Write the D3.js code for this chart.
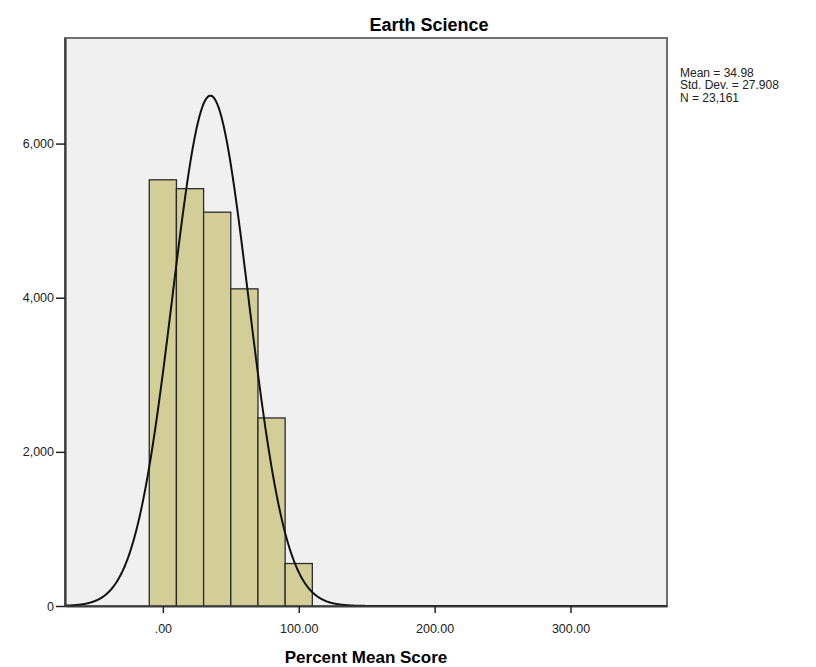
<!DOCTYPE html>
<html lang="en">

<head>
  <meta charset="UTF-8">
  <title>Earth Science</title>
  <style>
    body { margin: 0; background: #fff; }
    svg { display: block; }
    text { font-family: "Liberation Sans", Arial, sans-serif; }
  </style>
</head>

<body>
  <svg width="816" height="667" class="svgs"></svg>
  <script src="https://cdnjs.cloudflare.com/ajax/libs/d3/7.8.5/d3.min.js"></script>
  <script>
    // histogram bins (lower edge) and counts
    const binStarts = [-10, 10, 30, 50, 70, 90]
    const counts = [5530, 5415, 5110, 4115, 2440, 551]
    const binWidth = 20
    const xTicks = [0, 100, 200, 300]
    const yTicks = [0, 2000, 4000, 6000]
    const stats = ['Mean = 34.98', 'Std. Dev. = 27.908', 'N = 23,161']
    const mean = 34.98, sd = 27.908, n = 23161

    const mainsvg = d3.select('.svgs')
    const margin = { top: 38, left: 65, right: 149, bottom: 61 }
    const width = +mainsvg.attr('width')
    const height = +mainsvg.attr('height')
    const innerWidth = width - margin.left - margin.right
    const innerHeight = height - margin.top - margin.bottom

    const xScale = d3.scaleLinear().domain([-72, 371]).range([0, innerWidth])
    const yScale = d3.scaleLinear().domain([0, 7370]).range([innerHeight, 0])

    const g = mainsvg.append('g')
      .attr('transform', `translate(${margin.left}, ${margin.top})`)

    // plot background + frame
    g.append('rect')
      .attr('width', innerWidth).attr('height', innerHeight)
      .attr('fill', '#f0f0f0')
      .attr('stroke', '#6e6e6e').attr('stroke-width', 2)

    // bars
    g.selectAll('.bar').data(binStarts).join('rect')
      .attr('class', 'bar')
      .attr('x', d => xScale(d))
      .attr('width', d => xScale(d + binWidth) - xScale(d))
      .attr('y', (d, i) => yScale(counts[i]))
      .attr('height', (d, i) => innerHeight - yScale(counts[i]))
      .attr('fill', '#d3ce97')
      .attr('stroke', '#2b2b2b').attr('stroke-width', 1.3)

    // fitted normal curve
    const pts = d3.range(-72, 371.5, 0.5).map(x => [x,
      n * binWidth / (sd * Math.sqrt(2 * Math.PI)) * Math.exp(-0.5 * ((x - mean) / sd) ** 2)])
    g.append('path')
      .datum(pts)
      .attr('fill', 'none')
      .attr('stroke', '#111').attr('stroke-width', 2)
      .attr('d', d3.line().x(d => xScale(d[0])).y(d => yScale(d[1])))

    // axes
    const yAxis = d3.axisLeft(yScale).tickValues(yTicks).tickSize(9).tickSizeOuter(0).tickPadding(2)
      .tickFormat(d3.format(','))
    const yg = g.append('g').call(yAxis)
    const xAxis = d3.axisBottom(xScale).tickValues(xTicks).tickSize(7).tickSizeOuter(0).tickPadding(11)
      .tickFormat(d => d === 0 ? '.00' : d3.format('.2f')(d))
    const xg = g.append('g').attr('transform', `translate(0, ${innerHeight})`).call(xAxis)

    ;[yg, xg].forEach(ax => {
      ax.select('.domain').attr('stroke', '#3c3c3c').attr('stroke-width', 2.2)
      ax.selectAll('.tick line').attr('stroke', '#222').attr('stroke-width', 1.5)
      ax.selectAll('.tick text').attr('font-size', '12.5px').attr('fill', '#222')
        .attr('font-family', '"Liberation Sans", Arial, sans-serif')
    })

    // title
    mainsvg.append('text')
      .text('Earth Science')
      .attr('x', 429).attr('y', 31)
      .attr('text-anchor', 'middle')
      .attr('font-size', '18px').attr('font-weight', 'bold')

    // x axis title
    mainsvg.append('text')
      .text('Percent Mean Score')
      .attr('x', margin.left + innerWidth / 2).attr('y', 663)
      .attr('text-anchor', 'middle')
      .attr('font-size', '17px').attr('font-weight', 'bold')

    // stats
    mainsvg.append('g').selectAll('text').data(stats).join('text')
      .text(d => d)
      .attr('x', 680).attr('y', (d, i) => 77 + i * 12.3)
      .attr('font-size', '12px').attr('fill', '#222')
  </script>
</body>

</html>
